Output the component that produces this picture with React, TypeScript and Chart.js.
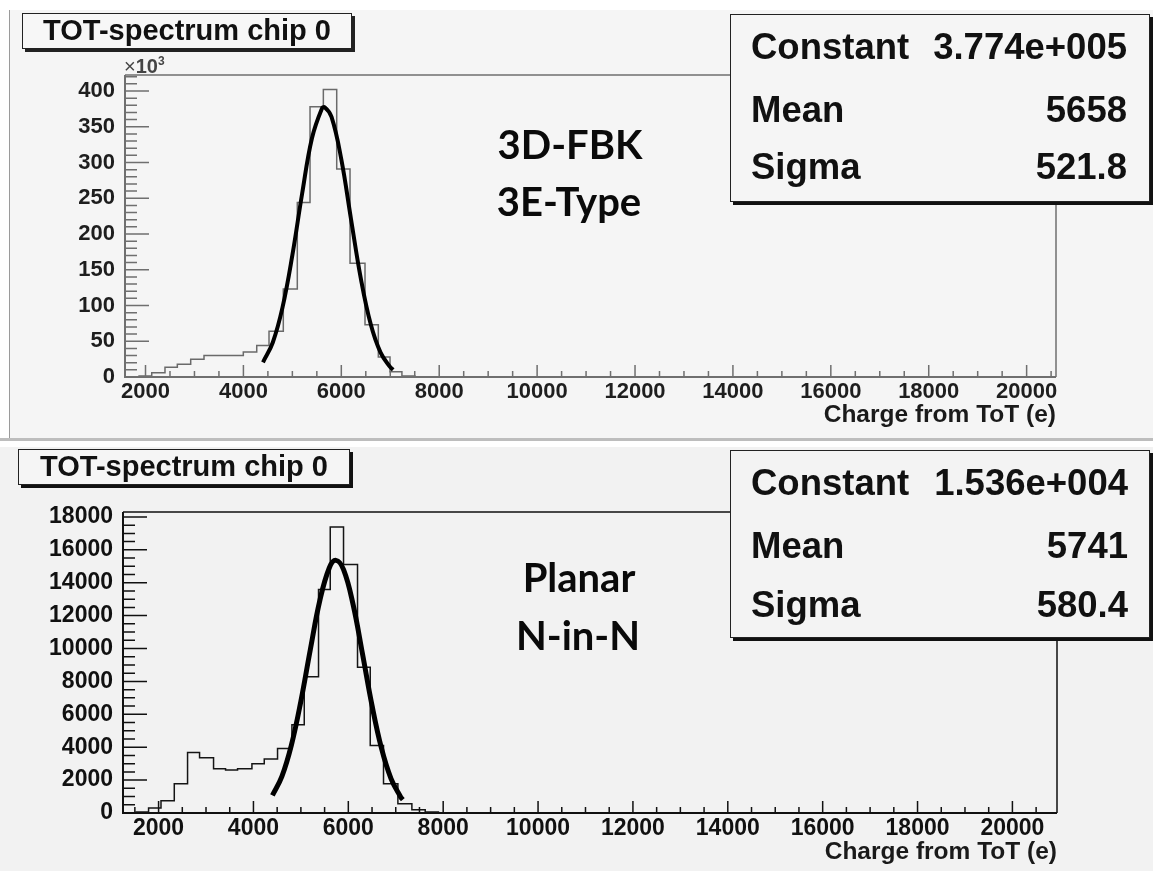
import React, { useEffect, useRef } from 'react';
import { Chart, registerables } from 'chart.js';

Chart.register(...registerables);

// ---------- data ----------
const xTickValues = [2000, 4000, 6000, 8000, 10000, 12000, 14000, 16000, 18000, 20000];
const topYTickValues = [0, 50, 100, 150, 200, 250, 300, 350, 400];
const botYTickValues = [0, 2000, 4000, 6000, 8000, 10000, 12000, 14000, 16000, 18000];

// 3D-FBK 3E-Type (counts in units of 10^3)
const topBinEdges = [1853, 2127, 2398, 2650, 2923, 3195, 3467, 3733, 3998, 4272, 4523, 4815, 5101, 5361, 5633, 5906, 6178, 6484, 6756, 6995, 7238, 7504];
const topCounts = [1.5, 6, 13.5, 18, 25, 30, 30, 30, 35, 44, 64, 123, 244, 378, 402, 291, 159, 73, 28, 7.4, 1.5];
const topFitX = [4400, 4600, 4800, 5000, 5200, 5400, 5600, 5660, 5800, 6000, 6200, 6400, 6600, 6800, 7000, 7060];
const topFitY = [20.6, 48.3, 97.7, 170.4, 256.7, 334, 375, 377.4, 363.7, 304.4, 220, 137.3, 74, 34.4, 13.8, 10.2];

// Planar N-in-N
const botBinEdges = [1509, 1789, 2051, 2331, 2611, 2864, 3159, 3412, 3665, 3968, 4228, 4508, 4811, 5071, 5372, 5619, 5899, 6194, 6462, 6742, 7045, 7340, 7621, 7900];
const botCounts = [60, 303, 747, 1780, 3680, 3360, 2690, 2610, 2690, 2990, 3280, 3920, 5360, 8290, 13590, 17390, 15110, 8860, 4100, 1780, 565, 200, 60];
const botFitX = [4400, 4600, 4800, 5000, 5200, 5400, 5600, 5740, 5900, 6100, 6300, 6500, 6700, 6900, 7100, 7150];
const botFitY = [1066, 2226, 4127, 6799, 9950, 12925, 14913, 15360, 14795, 12686, 9661, 6533, 3923, 2091, 991, 810];

const topStats = [['Constant', '3.774e+005'], ['Mean', '5658'], ['Sigma', '521.8']];
const botStats = [['Constant', '1.536e+004'], ['Mean', '5741'], ['Sigma', '580.4']];

const HELV = "'Liberation Sans', Arial, Helvetica, sans-serif";

const rootFrame = {
  id: 'rootFrame',
  afterDatasetsDraw(chart: any, _args: any, o: any) {
    const { ctx, chartArea: a, scales } = chart;
    const x = scales.x, y = scales.y;
    ctx.save();
    ctx.strokeStyle = o.color;
    ctx.lineWidth = o.frameWidth;
    ctx.beginPath();
    ctx.moveTo(a.left, a.top);
    ctx.lineTo(a.right, a.top);
    ctx.lineTo(a.right, a.bottom);
    ctx.stroke();
    ctx.lineWidth = o.axisWidth;
    ctx.beginPath();
    ctx.moveTo(a.left, a.top);
    ctx.lineTo(a.left, a.bottom);
    ctx.lineTo(a.right, a.bottom);
    ctx.stroke();
    ctx.lineWidth = o.tickWidth;
    ctx.beginPath();
    for (let v = Math.ceil(x.min / 500) * 500; v <= x.max; v += 500) {
      const px = x.getPixelForValue(v);
      const len = v % 2000 === 0 ? o.xMajor : o.xMinor;
      ctx.moveTo(px, a.bottom);
      ctx.lineTo(px, a.bottom - len);
    }
    for (let v = 0; v <= y.max; v += o.yMinorStep) {
      const py = y.getPixelForValue(v);
      const len = v % o.yMajorStep === 0 ? o.yMajor : o.yMinor;
      ctx.moveTo(a.left, py);
      ctx.lineTo(a.left + len, py);
    }
    ctx.stroke();
    ctx.restore();
  },
};

type PanelCfg = {
  width: number; height: number;
  areaLeft: number; areaRight: number; areaTop: number; areaBottom: number;
  xMin: number; xMax: number; yMax: number; yTicks: number[];
  edges: number[]; counts: number[]; fitX: number[]; fitY: number[];
  histColor: string; fitWidth: number; lineColor: string; labelColor: string;
  yMajorStep: number; yMinorStep: number; tickSize: number;
};

function HistPanel({ cfg }: { cfg: PanelCfg }) {
  const ref = useRef<HTMLCanvasElement>(null);
  useEffect(() => {
    const histData = cfg.counts.map((c, i) => ({ x: cfg.edges[i], y: c }));
    histData.push({ x: cfg.edges[cfg.edges.length - 1], y: 0 });
    const fitData = cfg.fitX.map((x, i) => ({ x, y: cfg.fitY[i] }));
    const tickFont = { family: HELV, weight: 'bold' as const, size: cfg.tickSize };
    const chart = new Chart(ref.current!, {
      type: 'line',
      data: {
        datasets: [
          { data: fitData, borderColor: '#000', borderWidth: cfg.fitWidth, pointRadius: 0, tension: 0.4, fill: false },
          { data: histData, borderColor: cfg.histColor, borderWidth: 1.5, pointRadius: 0, stepped: 'before', fill: false },
        ],
      },
      options: {
        animation: false,
        responsive: false,
        maintainAspectRatio: false,
        events: [],
        layout: { padding: { left: 0, right: cfg.width - cfg.areaRight, top: cfg.areaTop, bottom: 0 } },
        plugins: {
          legend: { display: false },
          tooltip: { enabled: false },
          rootFrame: {
            color: cfg.lineColor, frameWidth: 1.5, axisWidth: 2, tickWidth: 1.5,
            xMajor: 12, xMinor: 6, yMajor: 24, yMinor: 12,
            yMajorStep: cfg.yMajorStep, yMinorStep: cfg.yMinorStep,
          },
        } as any,
        scales: {
          x: {
            type: 'linear', min: cfg.xMin, max: cfg.xMax,
            afterFit: (s: any) => { s.height = cfg.height - cfg.areaBottom; },
            afterBuildTicks: (s: any) => { s.ticks = xTickValues.map((v) => ({ value: v })); },
            grid: { display: false, drawTicks: false, tickLength: 0 },
            border: { display: false },
            ticks: { autoSkip: false, maxRotation: 0, padding: 2, font: tickFont, color: cfg.labelColor, callback: (v: any) => String(v) },
          },
          y: {
            type: 'linear', min: 0, max: cfg.yMax,
            afterFit: (s: any) => { s.width = cfg.areaLeft; },
            afterBuildTicks: (s: any) => { s.ticks = cfg.yTicks.map((v) => ({ value: v })); },
            grid: { display: false, drawTicks: false, tickLength: 0 },
            border: { display: false },
            ticks: { autoSkip: false, padding: 10, font: tickFont, color: cfg.labelColor, callback: (v: any) => String(v) },
          },
        },
      },
      plugins: [rootFrame],
    } as any);
    return () => chart.destroy();
  }, [cfg]);
  return <canvas ref={ref} width={cfg.width} height={cfg.height} style={{ width: cfg.width, height: cfg.height, display: 'block' }} />;
}

const topCfg: PanelCfg = {
  width: 1153, height: 440, areaLeft: 125, areaRight: 1056, areaTop: 75, areaBottom: 377,
  xMin: 1581, xMax: 20600, yMax: 422.4, yTicks: topYTickValues,
  edges: topBinEdges, counts: topCounts, fitX: topFitX, fitY: topFitY,
  histColor: '#6a6a6a', fitWidth: 4, lineColor: '#6f6f6f', labelColor: '#1e1e1e',
  yMajorStep: 50, yMinorStep: 10, tickSize: 22,
};
const botCfg: PanelCfg = {
  width: 1153, height: 431, areaLeft: 123, areaRight: 1057, areaTop: 72, areaBottom: 373,
  xMin: 1250, xMax: 20940, yMax: 18300, yTicks: botYTickValues,
  edges: botBinEdges, counts: botCounts, fitX: botFitX, fitY: botFitY,
  histColor: '#151515', fitWidth: 5, lineColor: '#111', labelColor: '#111',
  yMajorStep: 2000, yMinorStep: 500, tickSize: 23,
};

function abs(left: number, top: number, extra: React.CSSProperties = {}): React.CSSProperties {
  return { position: 'absolute', left, top, ...extra };
}

function TitleBox({ left, top, width, height, bg, shadow }: any) {
  return (
    <div style={abs(left, top, {
      width, height, boxSizing: 'border-box', border: '1.5px solid #222', background: bg,
      boxShadow: `3px 3px 0 ${shadow}`, fontFamily: HELV, fontWeight: 'bold', fontSize: 29,
      lineHeight: `${height - 3}px`, textAlign: 'center', color: '#111', whiteSpace: 'nowrap',
    })}>TOT-spectrum chip 0</div>
  );
}

function StatsBox({ left, top, width, height, bg, rows, baselines, valueRight }: any) {
  const F = 36.5;
  return (
    <>
      <div style={abs(left, top, {
        width, height, boxSizing: 'border-box', border: '1.5px solid #222', background: bg,
        boxShadow: '3px 3px 0 #111',
      })} />
      {rows.map((r: string[], i: number) => (
        <React.Fragment key={i}>
          <div style={abs(left + 21, baselines[i] - 0.8465 * F, { fontFamily: HELV, fontWeight: 'bold', fontSize: F, lineHeight: `${F}px`, color: '#111', whiteSpace: 'nowrap' })}>{r[0]}</div>
          <div style={abs(valueRight - 300, baselines[i] - 0.8465 * F, { width: 300, textAlign: 'right', fontFamily: HELV, fontWeight: 'bold', fontSize: F, lineHeight: `${F}px`, color: '#111', whiteSpace: 'nowrap' })}>{r[1]}</div>
        </React.Fragment>
      ))}
    </>
  );
}

function BigLabel({ cx, baseline, text }: any) {
  const F = 40;
  return (
    <div style={abs(cx - 150, baseline - 0.887 * F, { width: 300, textAlign: 'center', fontFamily: "Lato, 'Open Sans', sans-serif", fontWeight: 'bold', fontSize: F, lineHeight: `${F}px`, color: '#0a0a0a', whiteSpace: 'nowrap' })}>{text}</div>
  );
}

function AxisTitle({ right, baseline }: any) {
  const F = 24.5;
  return (
    <div style={abs(right - 400, baseline - 0.8465 * F, { width: 400, textAlign: 'right', fontFamily: HELV, fontWeight: 'bold', fontSize: F, lineHeight: `${F}px`, color: '#1a1a1a', whiteSpace: 'nowrap' })}>Charge from ToT (e)</div>
  );
}

export default function App() {
  return (
    <div style={{ position: 'absolute', left: 0, top: 0, width: 1153, height: 871, background: '#ffffff', overflow: 'hidden' }}>
      {/* top panel background */}
      <div style={abs(9, 10, { width: 1144, height: 428, background: '#f5f5f5', borderLeft: '1.5px solid #9a9a9a' })} />
      <div style={abs(0, 438, { width: 1153, height: 3, background: '#bdbdbd' })} />
      {/* bottom panel background */}
      <div style={abs(0, 447, { width: 1153, height: 424, background: '#f2f2f2' })} />

      <div style={abs(0, 0)}><HistPanel cfg={topCfg} /></div>
      <div style={abs(0, 440)}><HistPanel cfg={botCfg} /></div>

      <TitleBox left={22} top={13} width={330} height={36} bg="#f7f7f7" shadow="#222" />
      <TitleBox left={18} top={449} width={332} height={36} bg="#f5f5f5" shadow="#111" />

      <div style={abs(124, 51, { fontFamily: HELV, fontSize: 20, color: '#444', whiteSpace: 'nowrap', lineHeight: '20px' })}>
        ×<span style={{ fontWeight: 'bold' }}>10</span><sup style={{ fontSize: 12, fontWeight: 'bold' }}>3</sup>
      </div>

      <StatsBox left={730} top={14} width={420} height={188} bg="#f5f5f5" rows={topStats} baselines={[60, 122.7, 180]} valueRight={1127} />
      <StatsBox left={730} top={450} width={420} height={188} bg="#f3f3f3" rows={botStats} baselines={[495.7, 559, 618]} valueRight={1128} />

      <BigLabel cx={570} baseline={159} text="3D-FBK" />
      <BigLabel cx={569} baseline={216} text="3E-Type" />
      <BigLabel cx={579} baseline={592} text="Planar" />
      <BigLabel cx={578} baseline={650} text="N-in-N" />

      <AxisTitle right={1056} baseline={423} />
      <AxisTitle right={1057} baseline={860} />
    </div>
  );
}
